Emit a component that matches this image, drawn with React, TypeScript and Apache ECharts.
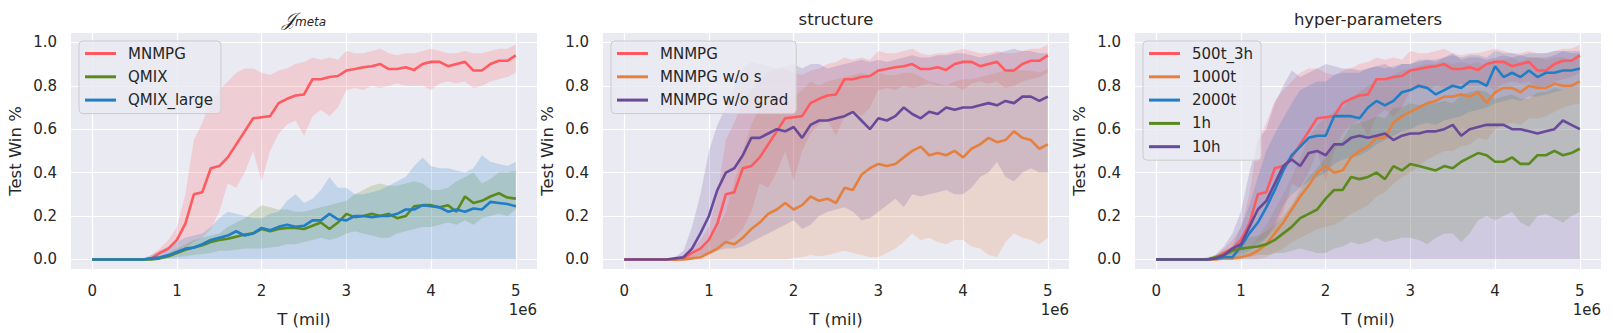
import React, { useEffect, useRef } from 'react';
import * as echarts from 'echarts';

// x grid in millions of steps (axis offset label "1e6")
const T = [0, 0.1, 0.2, 0.3, 0.4, 0.5, 0.6, 0.7, 0.8, 0.9, 1.0, 1.1, 1.2, 1.3, 1.4, 1.5, 1.6, 1.7, 1.8, 1.9, 2.0, 2.1, 2.2, 2.3, 2.4, 2.5, 2.6, 2.7, 2.8, 2.9, 3.0, 3.1, 3.2, 3.3, 3.4, 3.5, 3.6, 3.7, 3.8, 3.9, 4.0, 4.1, 4.2, 4.3, 4.4, 4.5, 4.6, 4.7, 4.8, 4.9, 5.0];
const xTicks = [0, 1, 2, 3, 4, 5];
const yTicks = [0, 0.2, 0.4, 0.6, 0.8, 1.0];

// MNMPG (= 500t_3h)
const mnmpgMean = [0,0,0,0,0,0,0, 0.005,0.03,0.05, 0.09,0.165,0.30,0.31,0.42,0.43,0.47,0.53,0.59,0.65, 0.655,0.66,0.72,0.74,0.755,0.76,0.83,0.83,0.84,0.845, 0.87,0.877,0.885,0.89,0.90,0.877,0.877,0.885,0.873,0.90, 0.91,0.91,0.89,0.90,0.91,0.87,0.87,0.90,0.915,0.915, 0.94];
const mnmpgLo = [0,0,0,0,0,0,0,0, 0.01,0.02, 0.03,0.05,0.08,0.10,0.14,0.22,0.35,0.33,0.40,0.50, 0.36,0.50,0.58,0.62,0.64,0.57,0.66,0.69,0.66,0.70, 0.78,0.79,0.78,0.80,0.79,0.80,0.81,0.80,0.80,0.80, 0.78,0.81,0.82,0.81,0.82,0.79,0.80,0.82,0.83,0.84, 0.86];
const mnmpgHi = [0,0,0,0,0,0,0, 0.02,0.05,0.09, 0.15,0.30,0.55,0.63,0.73,0.78,0.82,0.86,0.88,0.88, 0.86,0.85,0.87,0.88,0.90,0.91,0.93,0.92,0.93,0.92, 0.96,0.95,0.95,0.96,0.97,0.95,0.94,0.95,0.95,0.96, 0.97,0.96,0.95,0.95,0.96,0.95,0.95,0.96,0.97,0.97, 0.99];

// QMIX
const qmixMean = [0,0,0,0,0,0,0,0, 0.005,0.015, 0.03,0.045,0.055,0.065,0.08,0.09,0.095,0.105,0.115,0.12, 0.14,0.13,0.14,0.145,0.145,0.14,0.155,0.17,0.14,0.17, 0.21,0.195,0.20,0.21,0.20,0.21,0.19,0.20,0.245,0.25, 0.25,0.24,0.25,0.22,0.29,0.26,0.27,0.29,0.305,0.285, 0.28];
const qmixLo = [0,0,0,0,0,0,0,0, 0,0.005, 0.01,0.015,0.02,0.025,0.03,0.04,0.04,0.045,0.05,0.05, 0.05,0.055,0.06,0.07,0.07,0.08,0.09,0.10,0.09,0.10, 0.12,0.13,0.12,0.11,0.10,0.10,0.12,0.13,0.14,0.15, 0.15,0.16,0.17,0.16,0.18,0.16,0.19,0.20,0.21,0.20, 0.23];
const qmixHi = [0,0,0,0,0,0,0, 0.005,0.01,0.03, 0.05,0.07,0.09,0.10,0.11,0.12,0.15,0.17,0.19,0.22, 0.25,0.24,0.23,0.23,0.22,0.22,0.23,0.24,0.25,0.26, 0.27,0.30,0.32,0.34,0.35,0.34,0.34,0.35,0.36,0.35, 0.32,0.32,0.33,0.36,0.38,0.40,0.35,0.37,0.40,0.40, 0.41];

// QMIX_large
const qmixLargeMean = [0,0,0,0,0,0,0, 0.005,0.01,0.02, 0.035,0.05,0.055,0.07,0.09,0.10,0.11,0.13,0.11,0.12, 0.145,0.135,0.15,0.16,0.15,0.155,0.18,0.18,0.21,0.185, 0.18,0.20,0.20,0.195,0.20,0.20,0.21,0.23,0.23,0.25, 0.245,0.24,0.22,0.23,0.22,0.235,0.23,0.265,0.26,0.255, 0.245];
const qmixLargeLo = [0,0,0,0,0,0,0,0,0,0, 0,0,0,0,0,0,0,0,0,0, 0,0,0,0,0,0,0,0,0,0, 0,0,0,0,0,0,0,0,0,0, 0,0,0,0,0,0,0,0,0,0, 0];
const qmixLargeHi = [0,0,0,0,0,0, 0.005,0.02,0.04,0.06, 0.08,0.10,0.11,0.12,0.15,0.19,0.22,0.21,0.20,0.19, 0.19,0.21,0.22,0.27,0.30,0.26,0.28,0.32,0.38,0.33, 0.33,0.30,0.30,0.31,0.32,0.34,0.36,0.38,0.43,0.47, 0.43,0.42,0.42,0.41,0.40,0.42,0.48,0.45,0.44,0.43, 0.45];

// MNMPG w/o s
const woSMean = [0,0,0,0,0,0,0,0, 0.005,0.01, 0.03,0.05,0.08,0.07,0.10,0.14,0.17,0.21,0.23,0.26, 0.23,0.25,0.29,0.27,0.28,0.26,0.33,0.32,0.39,0.42, 0.44,0.43,0.44,0.47,0.50,0.52,0.48,0.49,0.48,0.50, 0.47,0.51,0.53,0.56,0.54,0.55,0.59,0.56,0.55,0.51, 0.53];
const woSLo = [0,0,0,0,0,0,0,0,0,0, 0,0,0,0,0,0,0,0,0,0, 0.005,0.01,0.02,0.015,0.02,0.03,0.04,0.03,0.02,0.01, 0.01,0.03,0.05,0.08,0.12,0.09,0.10,0.08,0.07,0.09, 0.09,0.06,0.05,0.02,0.01,0.08,0.12,0.10,0.09,0.07, 0.10];
const woSHi = [0,0,0,0,0,0,0, 0.01,0.02,0.04, 0.08,0.14,0.22,0.36,0.50,0.62,0.70,0.73,0.75,0.72, 0.75,0.78,0.82,0.80,0.82,0.83,0.84,0.85,0.86,0.85, 0.86,0.85,0.85,0.86,0.86,0.84,0.82,0.81,0.80,0.82, 0.83,0.83,0.84,0.85,0.86,0.87,0.88,0.87,0.87,0.86, 0.88];

// MNMPG w/o grad
const woGradMean = [0,0,0,0,0,0, 0.005,0.01,0.05,0.12, 0.20,0.32,0.40,0.42,0.48,0.56,0.56,0.58,0.60,0.59, 0.61,0.56,0.62,0.64,0.64,0.65,0.66,0.68,0.64,0.60, 0.65,0.64,0.66,0.70,0.67,0.65,0.68,0.67,0.70,0.69, 0.70,0.70,0.71,0.72,0.71,0.73,0.72,0.75,0.75,0.73, 0.75];
const woGradLo = [0,0,0,0,0,0,0,0, 0.005,0.01, 0.02,0.04,0.05,0.05,0.06,0.08,0.10,0.12,0.14,0.16, 0.18,0.14,0.16,0.20,0.22,0.23,0.24,0.22,0.18,0.19, 0.22,0.25,0.28,0.24,0.30,0.29,0.30,0.31,0.32,0.30, 0.30,0.33,0.38,0.40,0.45,0.38,0.36,0.40,0.42,0.40, 0.40];
const woGradHi = [0,0,0,0,0,0, 0.01,0.04,0.15,0.30, 0.50,0.62,0.70,0.80,0.88,0.91,0.90,0.89,0.88,0.89, 0.90,0.88,0.90,0.90,0.88,0.89,0.90,0.91,0.92,0.91, 0.92,0.91,0.92,0.93,0.94,0.93,0.93,0.94,0.94,0.95, 0.95,0.94,0.93,0.94,0.95,0.96,0.97,0.96,0.96,0.95, 0.95];

// 1000t
const t1000Mean = [0,0,0,0,0,0,0,0, 0.005,0.005, 0.01,0.02,0.04,0.07,0.12,0.17,0.23,0.29,0.34,0.40, 0.43,0.40,0.41,0.47,0.50,0.52,0.56,0.56,0.63,0.66, 0.68,0.70,0.72,0.73,0.75,0.75,0.76,0.75,0.77,0.72, 0.77,0.79,0.79,0.77,0.80,0.79,0.79,0.81,0.80,0.80, 0.82];
const t1000Lo = [0,0,0,0,0,0,0,0,0,0, 0,0,0,0.01,0.03,0.05,0.08,0.10,0.12,0.14, 0.15,0.16,0.18,0.21,0.23,0.25,0.29,0.31,0.35,0.38, 0.40,0.43,0.46,0.48,0.50,0.50,0.52,0.53,0.56,0.55, 0.60,0.62,0.63,0.62,0.65,0.65,0.66,0.68,0.70,0.71, 0.72];
const t1000Hi = [0,0,0,0,0,0,0,0, 0.01,0.01, 0.02,0.05,0.10,0.16,0.23,0.30,0.38,0.47,0.56,0.62, 0.65,0.68,0.70,0.74,0.77,0.80,0.82,0.82,0.85,0.87, 0.88,0.89,0.90,0.90,0.91,0.90,0.91,0.90,0.91,0.89, 0.92,0.92,0.93,0.91,0.93,0.93,0.92,0.93,0.93,0.92, 0.93];

// 2000t
const t2000Mean = [0,0,0,0,0,0,0, 0.005,0.01,0.01, 0.06,0.12,0.17,0.24,0.32,0.41,0.48,0.52,0.56,0.57, 0.57,0.66,0.66,0.66,0.65,0.70,0.73,0.71,0.73,0.77, 0.78,0.80,0.79,0.76,0.78,0.80,0.79,0.82,0.82,0.80, 0.89,0.84,0.86,0.84,0.87,0.84,0.86,0.86,0.87,0.87, 0.88];
const t2000Lo = [0,0,0,0,0,0,0,0,0,0, 0.02,0.04,0.06,0.10,0.16,0.25,0.30,0.33,0.36,0.38, 0.40,0.44,0.46,0.47,0.48,0.50,0.53,0.55,0.57,0.59, 0.60,0.62,0.63,0.62,0.64,0.65,0.66,0.68,0.69,0.70, 0.72,0.73,0.74,0.73,0.75,0.75,0.76,0.77,0.78,0.79, 0.80];
const t2000Hi = [0,0,0,0,0,0,0, 0.01,0.03,0.06, 0.15,0.25,0.38,0.50,0.58,0.65,0.72,0.78,0.80,0.82, 0.82,0.85,0.86,0.86,0.86,0.88,0.89,0.88,0.89,0.90, 0.90,0.92,0.92,0.91,0.93,0.94,0.93,0.94,0.94,0.93, 0.96,0.95,0.95,0.94,0.95,0.95,0.95,0.96,0.96,0.96, 0.96];

// 1h
const h1Mean = [0,0,0,0,0,0,0, 0.01,0.02,0.04, 0.05,0.055,0.06,0.07,0.09,0.12,0.15,0.19,0.21,0.23, 0.28,0.32,0.32,0.38,0.37,0.38,0.40,0.37,0.43,0.41, 0.44,0.43,0.42,0.41,0.43,0.42,0.45,0.47,0.49,0.48, 0.45,0.45,0.47,0.44,0.44,0.48,0.48,0.50,0.48,0.49, 0.51];
const h1Lo = [0,0,0,0,0,0,0,0,0,0, 0.01,0.01,0.02,0.02,0.03,0.03,0.04,0.05,0.04,0.03, 0.03,0.05,0.06,0.08,0.07,0.08,0.10,0.08,0.09,0.10, 0.10,0.09,0.07,0.10,0.12,0.12,0.08,0.12,0.18,0.20, 0.18,0.20,0.22,0.17,0.15,0.20,0.21,0.19,0.17,0.20, 0.22];
const h1Hi = [0,0,0,0,0,0, 0.01,0.02,0.04,0.06, 0.08,0.10,0.11,0.13,0.16,0.20,0.25,0.32,0.38,0.42, 0.47,0.53,0.55,0.62,0.63,0.64,0.66,0.65,0.70,0.70, 0.72,0.71,0.72,0.72,0.73,0.72,0.76,0.77,0.78,0.77, 0.74,0.75,0.76,0.74,0.74,0.77,0.77,0.79,0.78,0.79, 0.80];

// 10h
const h10Mean = [0,0,0,0,0,0,0, 0.005,0.02,0.05, 0.07,0.15,0.23,0.27,0.35,0.43,0.46,0.43,0.49,0.50, 0.48,0.53,0.53,0.56,0.57,0.56,0.57,0.58,0.55,0.57, 0.58,0.58,0.59,0.59,0.60,0.62,0.57,0.60,0.61,0.62, 0.62,0.62,0.60,0.60,0.59,0.58,0.59,0.60,0.64,0.62, 0.60];
const h10Lo = [0,0,0,0,0,0,0,0,0,0, 0,0,0,0,0,0,0,0,0,0, 0,0,0,0,0,0,0,0,0,0, 0,0,0,0,0,0,0,0,0,0, 0,0,0,0,0,0,0,0,0,0, 0];
const h10Hi = [0,0,0,0,0,0,0, 0.02,0.06,0.12, 0.22,0.40,0.55,0.60,0.72,0.80,0.87,0.84,0.86,0.88, 0.90,0.89,0.88,0.88,0.87,0.88,0.89,0.90,0.88,0.90, 0.90,0.91,0.92,0.92,0.93,0.95,0.92,0.93,0.93,0.92, 0.93,0.94,0.93,0.94,0.93,0.93,0.93,0.94,0.96,0.95, 0.95];

const RED = '#FF5A60';
const GREEN = '#5A8A1E';
const BLUE = '#1F7EC6';
const ORANGE = '#E5813E';
const PURPLE = '#68499A';

const TEXT = '#262626';
const FONT = 'DejaVu Sans';

type Entry = { name: string; color: string; mean: number[]; lo: number[]; hi: number[] };

const panels: { title: string; legend: Entry[] }[] = [
  {
    title: 'J',
    legend: [
      { name: 'MNMPG', color: RED, mean: mnmpgMean, lo: mnmpgLo, hi: mnmpgHi },
      { name: 'QMIX', color: GREEN, mean: qmixMean, lo: qmixLo, hi: qmixHi },
      { name: 'QMIX_large', color: BLUE, mean: qmixLargeMean, lo: qmixLargeLo, hi: qmixLargeHi },
    ],
  },
  {
    title: 'structure',
    legend: [
      { name: 'MNMPG', color: RED, mean: mnmpgMean, lo: mnmpgLo, hi: mnmpgHi },
      { name: 'MNMPG w/o s', color: ORANGE, mean: woSMean, lo: woSLo, hi: woSHi },
      { name: 'MNMPG w/o grad', color: PURPLE, mean: woGradMean, lo: woGradLo, hi: woGradHi },
    ],
  },
  {
    title: 'hyper-parameters',
    legend: [
      { name: '500t_3h', color: RED, mean: mnmpgMean, lo: mnmpgLo, hi: mnmpgHi },
      { name: '1000t', color: ORANGE, mean: t1000Mean, lo: t1000Lo, hi: t1000Hi },
      { name: '2000t', color: BLUE, mean: t2000Mean, lo: t2000Lo, hi: t2000Hi },
      { name: '1h', color: GREEN, mean: h1Mean, lo: h1Lo, hi: h1Hi },
      { name: '10h', color: PURPLE, mean: h10Mean, lo: h10Lo, hi: h10Hi },
    ],
  },
];

const GRID_LEFT = [71, 603, 1135];
const GRID_W = 466;
const GRID_TOP = 33;
const GRID_H = 237;

function hexA(hex: string, a: number) {
  const r = parseInt(hex.slice(1, 3), 16);
  const g = parseInt(hex.slice(3, 5), 16);
  const b = parseInt(hex.slice(5, 7), 16);
  return `rgba(${r},${g},${b},${a})`;
}

function buildOption() {
  const grid: any[] = [];
  const xAxis: any[] = [];
  const yAxis: any[] = [];
  const legend: any[] = [];
  const series: any[] = [];
  const graphic: any[] = [];

  panels.forEach((p, gi) => {
    grid.push({
      left: GRID_LEFT[gi], top: GRID_TOP, width: GRID_W, height: GRID_H,
      show: true, backgroundColor: '#EAEAF2', borderWidth: 0, containLabel: false,
    });
    xAxis.push({
      type: 'value', gridIndex: gi, min: -0.25, max: 5.25,
      name: 'T (mil)', nameLocation: 'middle', nameGap: 42,
      nameTextStyle: { fontSize: 16.5, color: TEXT, fontFamily: FONT },
      axisLine: { show: false },
      axisTick: { show: false, customValues: xTicks },
      axisLabel: { customValues: xTicks, margin: 14, fontSize: 15, color: TEXT, fontFamily: FONT, formatter: (v: number) => String(v) },
      splitLine: { show: true, lineStyle: { color: '#FFFFFF', width: 1.2 } },
    });
    yAxis.push({
      type: 'value', gridIndex: gi, min: -0.044, max: 1.043,
      name: 'Test Win %', nameLocation: 'middle', nameGap: 47, nameRotate: 90,
      nameTextStyle: { fontSize: 16.5, color: TEXT, fontFamily: FONT },
      axisLine: { show: false },
      axisTick: { show: false, customValues: yTicks },
      axisLabel: { customValues: yTicks, margin: 14, fontSize: 15, color: TEXT, fontFamily: FONT, formatter: (v: number) => v.toFixed(1) },
      splitLine: { show: true, lineStyle: { color: '#FFFFFF', width: 1.2 } },
    });
    legend.push({
      left: GRID_LEFT[gi] + 8, top: GRID_TOP + 8,
      orient: 'vertical',
      data: p.legend.map((e) => e.name),
      icon: 'rect', itemWidth: 31, itemHeight: 3, itemGap: 6.3,
      padding: [4, 8, 5, 6],
      backgroundColor: 'rgba(234,234,242,0.8)', borderColor: '#CCCCCC', borderWidth: 1, borderRadius: 4,
      selectedMode: false,
      textStyle: { fontSize: 15, color: TEXT, fontFamily: FONT, lineHeight: 17, padding: [0, 0, 0, 7] },
    });
    // bands first: one polygon per band, projected through the axes
    p.legend.forEach((e) => {
      const fill = hexA(e.color, 0.2);
      series.push({
        type: 'custom', name: `${e.name}-band-${gi}`, xAxisIndex: gi, yAxisIndex: gi,
        silent: true, clip: true, z: 1,
        data: T.map((t, i) => [t, e.lo[i], e.hi[i]]),
        encode: { x: 0, y: [1, 2] },
        renderItem: (params: any, api: any) => {
          if (params.dataIndex !== 0) return null;
          const pts: number[][] = [];
          for (let i = 0; i < T.length; i++) pts.push(api.coord([T[i], e.hi[i]]));
          for (let i = T.length - 1; i >= 0; i--) pts.push(api.coord([T[i], e.lo[i]]));
          return {
            type: 'polygon',
            shape: { points: pts },
            style: { fill, stroke: 'none' },
          };
        },
      });
    });
    p.legend.forEach((e) => {
      series.push({
        type: 'line', name: e.name, xAxisIndex: gi, yAxisIndex: gi, z: 3,
        data: T.map((t, i) => [t, e.mean[i]]), symbol: 'none', showSymbol: false,
        color: e.color,
        itemStyle: { color: e.color },
        lineStyle: { color: e.color, width: 2.6 },
      });
    });
    // "1e6" offset label
    graphic.push({
      type: 'text', x: GRID_LEFT[gi] + GRID_W, y: 310,
      style: { text: '1e6', fontSize: 15, fontFamily: FONT, fill: TEXT, align: 'right', verticalAlign: 'middle' },
    });
    // titles
    const cx = GRID_LEFT[gi] + GRID_W / 2;
    if (gi === 0) {
      graphic.push({
        type: 'text', x: cx, y: 19,
        style: {
          text: '{j|𝒥}{s|meta}', align: 'center', verticalAlign: 'middle',
          rich: {
            j: { fontSize: 19, fontFamily: 'DejaVu Serif', fontStyle: 'italic', fill: TEXT },
            s: { fontSize: 12, fontFamily: FONT, fontStyle: 'italic', fill: TEXT, padding: [5, 0, 0, 0] },
          },
        },
      });
    } else {
      graphic.push({
        type: 'text', x: cx, y: 19,
        style: { text: p.title, fontSize: 16.5, fontFamily: FONT, fill: TEXT, align: 'center', verticalAlign: 'middle' },
      });
    }
  });

  return {
    animation: false,
    backgroundColor: '#FFFFFF',
    textStyle: { fontFamily: FONT },
    grid, xAxis, yAxis, legend, series, graphic,
  };
}

export default function App() {
  const ref = useRef<HTMLDivElement>(null);
  useEffect(() => {
    if (!ref.current) return;
    const chart = echarts.init(ref.current, null, { renderer: 'svg' });
    chart.setOption(buildOption() as any);
    return () => chart.dispose();
  }, []);
  return <div ref={ref} style={{ position: 'fixed', left: 0, top: 0, width: 1613, height: 333 }} />;
}
